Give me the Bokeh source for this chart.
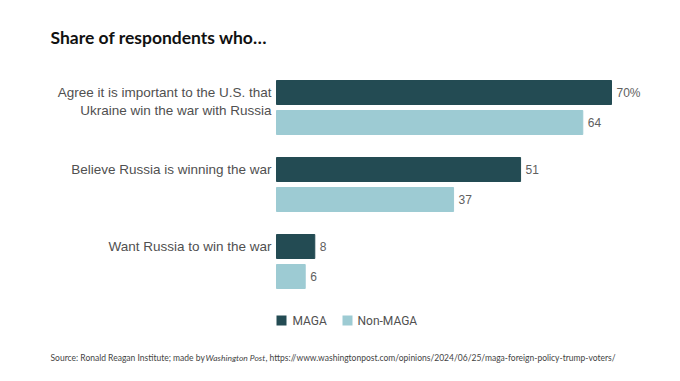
from bokeh.plotting import figure
from bokeh.models import Range1d, Label
from bokeh.core.properties import value
from bokeh.embed import file_html
from bokeh.resources import INLINE

# ---- data ----
categories = [
    "Agree it is important to the U.S. that\nUkraine win the war with Russia",
    "Believe Russia is winning the war",
    "Want Russia to win the war",
]
maga = [70, 51, 8]
non_maga = [64, 37, 6]
series_names = ["MAGA", "Non-MAGA"]
title_text = "Share of respondents who\u2026"
source_parts = ["Source: Ronald Reagan Institute; made by", "Washington Post",
                ", https://www.washingtonpost.com/opinions/2024/06/25/maga-foreign-policy-trump-voters/"]

# ---- layout ----
W, H = 664, 365
ZERO_PX = 276.0          # figure px where value 0 sits
PXU = 335.0 / 70.0       # px per percentage point
GROUP_PX = 77.0          # px between groups
GROUP0_PX = 107.0        # px from top of first group center
OFF = 15.0 / GROUP_PX    # half distance between the two bars in a group
BAR_H = 24.0 / GROUP_PX

C_MAGA = "#234b53"
C_NON = "#9dcbd3"
C_LABEL = "#505050"
C_VAL = "#606060"

def dx(px):  # figure px -> data x
    return (px - ZERO_PX) / PXU

def dy(py):  # figure px (from top) -> data y
    return (py - GROUP0_PX) / GROUP_PX

p = figure(width=W, height=H, output_backend="svg", toolbar_location=None,
           min_border=0, x_range=Range1d(dx(0), dx(W)),
           y_range=Range1d(dy(H), dy(0)))
p.axis.visible = False
p.grid.visible = False
p.outline_line_color = None
p.background_fill_color = "white"
p.border_fill_color = "white"

idx = list(range(len(categories)))
y_maga = [i - OFF for i in idx]
y_non = [i + OFF for i in idx]

p.hbar(y=y_maga, left=0, right=maga, height=BAR_H, color=C_MAGA)
p.hbar(y=y_non, left=0, right=non_maga, height=BAR_H, color=C_NON)

# value labels
gap = 5.0 / PXU
mtxt = [f"{v}%" if i == 0 else f"{v}" for i, v in enumerate(maga)]
ntxt = [f"{v}" for v in non_maga]
p.text(x=[v + gap for v in maga], y=y_maga, text=mtxt, text_font=value("Liberation Sans"),
       text_font_size="12px", text_color=C_VAL, text_align="left", text_baseline="middle")
p.text(x=[v + gap for v in non_maga], y=y_non, text=ntxt, text_font=value("Liberation Sans"),
       text_font_size="12px", text_color=C_VAL, text_align="left", text_baseline="middle")

# category labels (line by line, first line aligned to MAGA bar)
lx, ly, lt = [], [], []
for i, cat in enumerate(categories):
    for k, line in enumerate(cat.split("\n")):
        lx.append(dx(ZERO_PX - 5))
        ly.append(y_maga[i] + k * 18.0 / GROUP_PX)
        lt.append(line)
p.text(x=lx, y=ly, text=lt, text_font=value("Liberation Sans"), text_font_size="13.5px",
       text_color=C_LABEL, text_align="right", text_baseline="middle")

# legend
leg_y = dy(320)
sq_x = [dx(281), dx(347)]
p.scatter(x=sq_x, y=[leg_y, leg_y], marker="square", size=10, color=[C_MAGA, C_NON], line_color=None)
p.text(x=[dx(292), dx(357)], y=[leg_y, leg_y], text=series_names, text_font=value("Roboto"),
       text_font_size="12px", text_color=C_LABEL, text_align="left", text_baseline="middle")

# title
p.add_layout(Label(x=dx(50), y=dy(37), text=title_text, text_font="Lato", text_font_style="bold",
                   text_font_size="17.5px", text_color="#111111", text_baseline="middle"))

# source
src_y = dy(357)
src_x = [dx(50), dx(205), dx(265)]
for i, part in enumerate(source_parts):
    p.add_layout(Label(x=src_x[i], y=src_y, text=part, text_font="Lato",
                       text_font_style="italic" if i == 1 else "normal",
                       text_font_size="8.5px", text_color="#444444", text_baseline="middle"))

open("out.html", "w").write(file_html(p, INLINE))
